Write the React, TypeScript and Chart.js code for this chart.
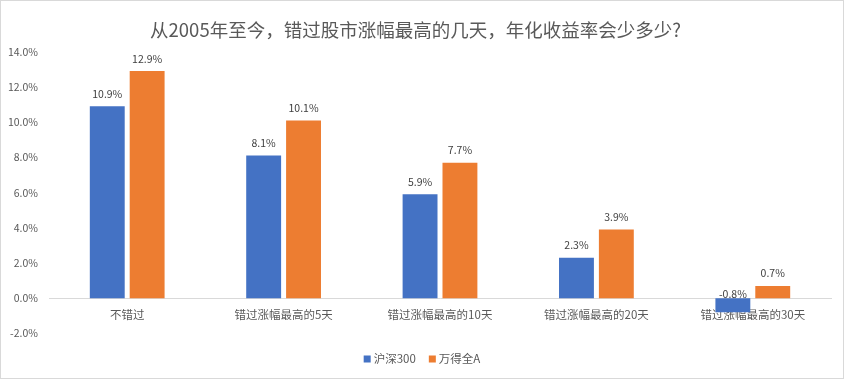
import React, { useEffect, useRef } from "react";
import { Chart, registerables } from "chart.js";

Chart.register(...registerables);

const categories = ["不错过", "错过涨幅最高的5天", "错过涨幅最高的10天", "错过涨幅最高的20天", "错过涨幅最高的30天"];
const seriesNames = ["沪深300", "万得全A"];
const hs300 = [10.9, 8.1, 5.9, 2.3, -0.8];
const windA = [12.9, 10.1, 7.7, 3.9, 0.7];
const colors = ["#4472C4", "#ED7D31"];
const titleText = "从2005年至今，错过股市涨幅最高的几天，年化收益率会少多少?";
const yMin = -2;
const yMax = 14;
const yStep = 2;

const FONT = "'Noto Sans CJK SC', 'Noto Sans', sans-serif";

const frame = {
  id: "frame",
  beforeDraw(chart: any) {
    const { ctx, width, height } = chart;
    ctx.save();
    ctx.fillStyle = "#ffffff";
    ctx.fillRect(0, 0, width, height);
    ctx.strokeStyle = "#d9d9d9";
    ctx.lineWidth = 1;
    ctx.strokeRect(0.5, 0.5, width - 1, height - 1);
    ctx.restore();
  },
};

const valueLabels = {
  id: "valueLabels",
  afterDatasetsDraw(chart: any) {
    const { ctx } = chart;
    ctx.save();
    ctx.font = `10.5px ${FONT}`;
    ctx.fillStyle = "#404040";
    ctx.textAlign = "center";
    ctx.textBaseline = "middle";
    chart.data.datasets.forEach((ds: any, di: number) => {
      const meta = chart.getDatasetMeta(di);
      meta.data.forEach((bar: any, i: number) => {
        const v = ds.data[i] as number;
        const top = v >= 0 ? bar.y : bar.base;
        const y = v >= 0 ? top - 12.5 : top - 4;
        ctx.fillText(v.toFixed(1) + "%", bar.x, y);
      });
    });
    ctx.restore();
  },
};

const bottomLegend = {
  id: "bottomLegend",
  afterDraw(chart: any) {
    const { ctx, width } = chart;
    const box = 7;
    const textGap = 3;
    const itemGap = 13;
    const cy = 359;
    ctx.save();
    ctx.font = `11.5px ${FONT}`;
    ctx.textBaseline = "middle";
    ctx.textAlign = "left";
    const items = chart.data.datasets.map((ds: any) => ({
      label: ds.label as string,
      color: ds.backgroundColor as string,
      w: ctx.measureText(ds.label).width,
    }));
    const total = items.reduce((s: number, it: any) => s + box + textGap + it.w, 0) + itemGap * (items.length - 1);
    let x = width / 2 - total / 2;
    items.forEach((it: any) => {
      ctx.fillStyle = it.color;
      ctx.fillRect(x, cy - box / 2, box, box);
      ctx.fillStyle = "#595959";
      ctx.fillText(it.label, x + box + textGap, cy);
      x += box + textGap + it.w + itemGap;
    });
    ctx.restore();
  },
};

export default function App() {
  const ref = useRef<HTMLCanvasElement>(null);
  useEffect(() => {
    const chart = new Chart(ref.current as HTMLCanvasElement, {
      type: "bar",
      data: {
        labels: categories,
        datasets: [
          { label: seriesNames[0], data: hs300, backgroundColor: colors[0], categoryPercentage: 0.51, barPercentage: 0.875 },
          { label: seriesNames[1], data: windA, backgroundColor: colors[1], categoryPercentage: 0.51, barPercentage: 0.875 },
        ],
      },
      options: {
        responsive: false,
        animation: false,
        devicePixelRatio: 1,
        layout: { padding: { left: 0, right: 13, top: 0, bottom: 45.5 } },
        plugins: {
          title: {
            display: true,
            text: titleText,
            color: "#595959",
            font: { family: FONT, size: 18.5, weight: "normal" },
            padding: { top: 19, bottom: 10.5 },
          },
          legend: { display: false },
          tooltip: { enabled: false },
        },
        scales: {
          x: {
            position: { y: 0 } as any,
            grid: { display: false, drawTicks: false },
            border: { display: true, color: "#d9d9d9", width: 1 },
            ticks: { color: "#595959", font: { family: FONT, size: 11.5 }, padding: 9, maxRotation: 0, autoSkip: false },
          },
          y: {
            min: yMin,
            max: yMax,
            grid: { display: false, drawTicks: false },
            border: { display: false },
            afterFit: (scale: any) => {
              scale.width = 49;
            },
            ticks: {
              stepSize: yStep,
              padding: 11,
              color: "#595959",
              font: { family: FONT, size: 10.5 },
              callback: (v: any) => Number(v).toFixed(1) + "%",
            },
          },
        },
      },
      plugins: [frame, valueLabels, bottomLegend],
    });
    return () => chart.destroy();
  }, []);
  return (
    <div style={{ position: "fixed", left: 0, top: 0, width: 844, height: 379 }}>
      <canvas ref={ref} width={844} height={379} style={{ display: "block", width: 844, height: 379 }} />
    </div>
  );
}
